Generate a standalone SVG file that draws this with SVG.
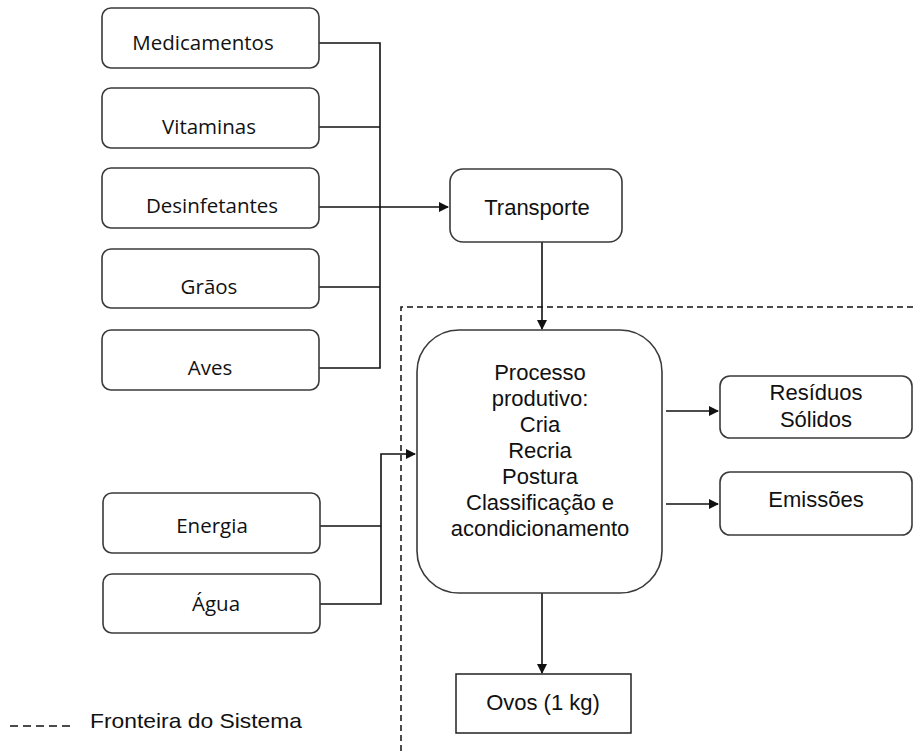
<svg xmlns="http://www.w3.org/2000/svg" width="913" height="751" viewBox="0 0 913 751">
<style>
.box{fill:#fff;stroke:#3a3a3a;stroke-width:1.6}
.bx2{fill:#fff;stroke:#222;stroke-width:1.5}
.in{font-family:"Open Sans","DejaVu Sans",sans-serif;font-size:20.5px;fill:#111;text-anchor:middle}
.ar{font-family:"Liberation Sans",Arial,sans-serif;font-size:22px;fill:#111;text-anchor:middle}
.ln{fill:none;stroke:#111;stroke-width:1.6}
.dash{fill:none;stroke:#111;stroke-width:1.5;stroke-dasharray:6 4}
</style>
<defs>
<marker id="arr" markerWidth="10" markerHeight="10" refX="9" refY="5" orient="auto" markerUnits="userSpaceOnUse">
<path d="M0,0 L10,5 L0,10 Z" fill="#111"/>
</marker>
</defs>

<g id="boundary">
<path class="dash" d="M401,751 L401,307 L913,307"/>
</g>

<g id="connectors">
<path class="ln" d="M319,43 H380 V368 H319"/>
<path class="ln" d="M319,127 H380"/>
<path class="ln" d="M319,287 H380"/>
<path class="ln" d="M319,207 H448" marker-end="url(#arr)"/>
<path class="ln" d="M542,242 V329" marker-end="url(#arr)"/>
<path class="ln" d="M320,526 H381"/>
<path class="ln" d="M320,604 H381 V454 H415" marker-end="url(#arr)"/>
<path class="ln" d="M666,411 H718" marker-end="url(#arr)"/>
<path class="ln" d="M666,504 H718" marker-end="url(#arr)"/>
<path class="ln" d="M542,593 V673" marker-end="url(#arr)"/>
</g>

<g id="medicamentos"><rect class="box" x="102" y="8" width="217" height="60" rx="9"/><text class="in" x="203" y="50">Medicamentos</text></g>
<g id="vitaminas"><rect class="box" x="102" y="88" width="217" height="60" rx="9"/><text class="in" x="209" y="134">Vitaminas</text></g>
<g id="desinfetantes"><rect class="box" x="102" y="168" width="217" height="60" rx="9"/><text class="in" x="212" y="213">Desinfetantes</text></g>
<g id="graos"><rect class="box" x="102" y="249" width="217" height="59" rx="9"/><text class="in" x="209" y="294">Grãos</text></g>
<g id="aves"><rect class="box" x="102" y="330" width="217" height="60" rx="9"/><text class="in" x="210" y="375">Aves</text></g>
<g id="energia"><rect class="box" x="103" y="493" width="217" height="60" rx="9"/><text class="in" x="212" y="533">Energia</text></g>
<g id="agua"><rect class="box" x="103" y="574" width="217" height="59" rx="9"/><text class="in" x="216" y="611">Água</text></g>

<g id="transporte"><rect class="box" x="450" y="169" width="172" height="73" rx="13"/><text class="ar" x="537" y="215">Transporte</text></g>

<g id="processo"><rect class="box" x="417" y="330" width="245" height="263" rx="42"/>
<text class="ar" x="540" y="380">Processo</text>
<text class="ar" x="540" y="406">produtivo:</text>
<text class="ar" x="540" y="432">Cria</text>
<text class="ar" x="540" y="458">Recria</text>
<text class="ar" x="540" y="484">Postura</text>
<text class="ar" x="540" y="510">Classificação e</text>
<text class="ar" x="540" y="536">acondicionamento</text>
</g>

<g id="residuos"><rect class="box" x="720" y="376" width="192" height="62" rx="10"/><text class="ar" x="816" y="400">Resíduos</text><text class="ar" x="816" y="427">Sólidos</text></g>
<g id="emissoes"><rect class="box" x="720" y="472" width="192" height="63" rx="10"/><text class="ar" x="816" y="507">Emissões</text></g>

<g id="ovos"><rect class="bx2" x="456" y="674" width="175" height="59"/><text class="ar" x="543" y="710">Ovos (1 kg)</text></g>

<g id="legend">
<path class="dash" d="M10,726 H72" style="stroke-dasharray:8 5"/>
<text font-family="Liberation Sans, Arial, sans-serif" font-size="21" fill="#111" x="90" y="728" textLength="212" lengthAdjust="spacingAndGlyphs">Fronteira do Sistema</text>
</g>
</svg>
